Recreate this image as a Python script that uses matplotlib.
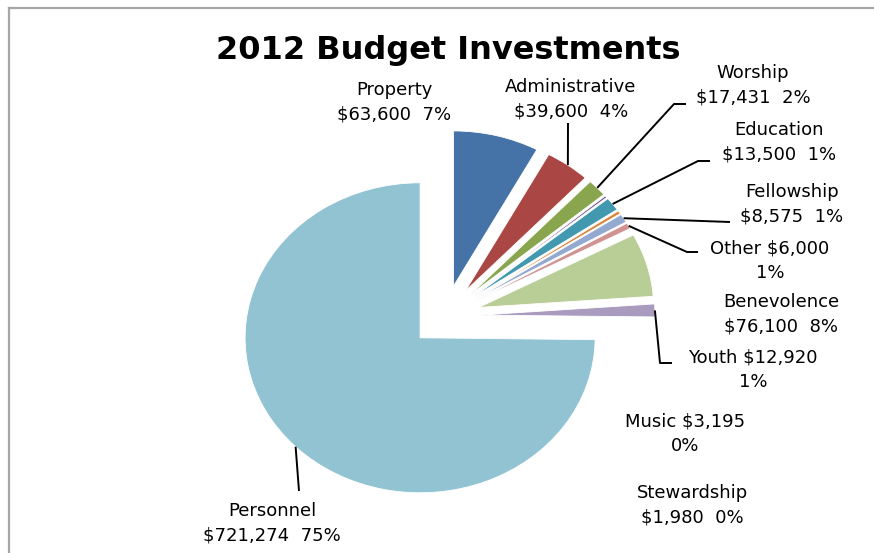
import matplotlib.pyplot as plt
from matplotlib.lines import Line2D
import numpy as np

################################################################################

# slices in drawing order (clockwise from 12 o'clock)
names = ['Property', 'Administrative', 'Worship', 'Stewardship', 'Education',
         'Music', 'Fellowship', 'Other', 'Benevolence', 'Youth', 'Personnel']
# dollar amounts as printed on the labels
amounts = [63600, 39600, 17431, 1980, 13500, 3195, 8575, 6000, 76100, 12920, 721274]
percents = [7, 4, 2, 0, 1, 0, 1, 1, 8, 1, 75]
# wedge sizes as drawn in the picture (the Property and Benevolence wedges
# are drawn with each other's size)
wedge_sizes = [76100, 39600, 17431, 1980, 13500, 3195, 8575, 6000, 63600, 12920, 721274]
colors = ['#4572A7', '#AA4643', '#89A54E', '#71588F', '#4198AF', '#DB843D',
          '#93A9CF', '#D19392', '#B9CD96', '#A99BBD', '#92C3D3']

################################################################################

W, H = 874, 553
CX, CY, RX, RY = 445, 316, 175, 155   # pie centre / radii in pixels
EXPLODE = 0.2

def P(x, y):
	# pixel position -> data coords of the pie axes
	return ((x - CX) / RX, (CY - y) / RY)

def label_text(i):
	n, a, p = names[i], amounts[i], percents[i]
	money = '${:,}'.format(a)
	if n in ('Other', 'Youth', 'Music'):
		return '%s %s\n%d%%' % (n, money, p)
	return '%s\n%s  %d%%' % (n, money, p)

# label centres (px) and leader line points (elbow, end) in px
label_pos = {
	'Property': (394, 102),
	'Administrative': (571, 99),
	'Worship': (753, 85),
	'Education': (779, 142),
	'Fellowship': (792, 204),
	'Other': (770, 261),
	'Benevolence': (781, 314),
	'Youth': (753, 370),
	'Music': (685, 434),
	'Stewardship': (692, 505),
	'Personnel': (272, 523),
}
leaders = {
	'Administrative': [(568, 123)],
	'Worship': [(674, 104), (686, 104)],
	'Education': [(698, 161), (710, 161)],
	'Fellowship': [(730, 222)],
	'Other': [(687, 252), (698, 252)],
	'Youth': [(660, 363), (672, 363)],
	'Personnel': [(299, 491)],
}

fig = plt.figure(figsize=(W / 100, H / 100), dpi=100)
ax = fig.add_axes([0, 0, 1, 1])

wedges, _ = ax.pie(wedge_sizes, colors=colors, startangle=90, counterclock=False,
                   explode=[EXPLODE] * len(wedge_sizes),
                   wedgeprops=dict(edgecolor='white', linewidth=0.6))
ax.set_aspect('auto')
ax.set_xlim(-CX / RX, (W - CX) / RX)
ax.set_ylim(-(H - CY) / RY, CY / RY)
ax.axis('off')

font = 'DejaVu Sans'
for i, n in enumerate(names):
	x, y = P(*label_pos[n])
	ax.text(x, y, label_text(i), ha='center', va='center', fontsize=13,
	        family=font, linespacing=1.45, color='#000000')

for i, w in enumerate(wedges):
	n = names[i]
	if n not in leaders:
		continue
	mid = np.deg2rad((w.theta1 + w.theta2) / 2)
	cx, cy = w.center
	xs = [cx + w.r * np.cos(mid)]
	ys = [cy + w.r * np.sin(mid)]
	for p in leaders[n]:
		x, y = P(*p)
		xs.append(x)
		ys.append(y)
	ax.plot(xs, ys, color='black', lw=1.4, solid_capstyle='butt')

fig.text(448 / W, 1 - 50 / H, '2012 Budget Investments', ha='center', va='center',
         fontsize=23, fontweight='bold', family=font)

# chart frame
fig.add_artist(Line2D([9 / W, 9 / W], [0, 1 - 8 / H], color='#A6A6A6', lw=1.6))
fig.add_artist(Line2D([9 / W, 1], [1 - 8 / H, 1 - 8 / H], color='#A6A6A6', lw=1.6))

plt.savefig('out.png', dpi=100)
